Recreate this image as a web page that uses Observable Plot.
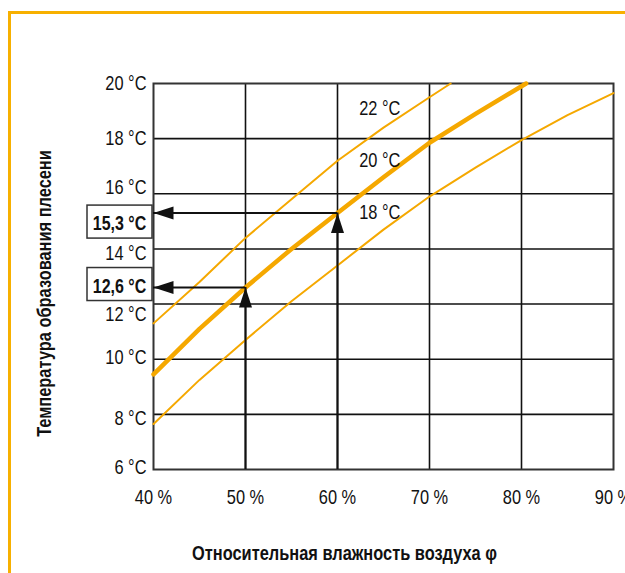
<!DOCTYPE html>
<html lang="ru">
<head>
<meta charset="utf-8">
<script src="https://cdn.jsdelivr.net/npm/d3@7"></script>
<script src="https://cdn.jsdelivr.net/npm/@observablehq/plot@0.6"></script>
<style>
  html, body { margin: 0; padding: 0; background: #fff; overflow: hidden; }
  #wrap { position: relative; width: 625px; height: 573px; }
  #wrap svg { display: block; }
  #edge {
    position: absolute; left: 8px; top: 11px; width: 700px; height: 700px;
    border-left: 3px solid #f7b000; border-top: 3px solid #f7b000;
    pointer-events: none;
  }
</style>
</head>
<body>
<div id="wrap"><div id="edge"></div></div>
<script>
// Relative humidity (%) vs. mould formation temperature (°C), per room air temperature
const xDomain = [40, 90];
const yDomain = [6, 20];
const xTicks = [40, 50, 60, 70, 80, 90];
const yTicks = [6, 8, 10, 12, 14, 16, 18, 20];

const seriesNames = ["22 °C", "20 °C", "18 °C"];

const rh22 = [40, 45, 50, 55, 60, 65, 70, 72.3];
const t22  = [11.3, 12.8, 14.4, 15.8, 17.2, 18.4, 19.5, 20];

const rh20 = [40, 45, 50, 55, 60, 65, 70, 75, 80.5];
const t20  = [9.45, 11.1, 12.6, 14.0, 15.3, 16.6, 17.85, 18.9, 20];

const rh18 = [40, 45, 50, 55, 60, 65, 70, 75, 80, 85, 90];
const t18  = [7.65, 9.25, 10.7, 12.1, 13.4, 14.7, 15.9, 16.95, 17.95, 18.85, 19.65];

// Worked readings on the 20 °C curve
const readRh = [50, 60];
const readT  = [12.6, 15.3];

const gold = "#f5a800";
const ink = "#111";

const toPoints = (rh, t) => rh.map((x, i) => ({x, y: t[i]}));
const readings = readRh.map((rh, i) => ({rh, t: readT[i]}));
const fmt = v => v.toFixed(1).replace(".", ",") + " °C";

// arrowhead: tip at the origin, pointing up
const head = {
  draw(ctx) {
    ctx.moveTo(0, 0);
    ctx.lineTo(-6.5, 20);
    ctx.lineTo(6.5, 20);
    ctx.closePath();
  }
};

// vertical nudges for axis labels sitting next to the callout boxes
const yLabelNudge = {16: -6, 14: 5, 12: 11, 8: 4, 10: -2, 6: -2};
// vertical offset of each callout box from its arrow
const boxShift = {50: -3, 60: 9};

const marks = [
  Plot.ruleX(xTicks.slice(1, -1), {stroke: "#111", strokeWidth: 1.6}),
  Plot.ruleY(yTicks.slice(1, -1), {stroke: "#111", strokeWidth: 1.6}),
  Plot.frame({stroke: "#333", strokeWidth: 2}),

  Plot.line(toPoints(rh22, t22), {x: "x", y: "y", stroke: gold, strokeWidth: 2}),
  Plot.line(toPoints(rh18, t18), {x: "x", y: "y", stroke: gold, strokeWidth: 2}),
  Plot.line(toPoints(rh20, t20), {x: "x", y: "y", stroke: gold, strokeWidth: 4.5}),

  // reading arrows: up from the humidity axis, then left to the temperature axis
  Plot.ruleX(readings, {x: "rh", y1: yDomain[0], y2: "t", stroke: ink, strokeWidth: 2}),
  Plot.ruleY(readings, {y: "t", x1: xDomain[0], x2: "rh", stroke: ink, strokeWidth: 2}),
  Plot.dot(readings, {x: "rh", y: "t", symbol: head, r: 3, fill: ink, stroke: "none"}),
  Plot.dot(readings, {x: xDomain[0], y: "t", symbol: head, r: 3, fill: ink, stroke: "none", rotate: -90}),

  // curve names
  Plot.text([seriesNames[0]], {x: 64.6, y: 19.08, text: d => d}),
  Plot.text([seriesNames[1]], {x: 64.6, y: 17.22, text: d => d}),
  Plot.text([seriesNames[2]], {x: 64.6, y: 15.33, text: d => d}),

  // x tick labels
  Plot.text(xTicks, {x: d => d, frameAnchor: "bottom", lineAnchor: "middle", dy: 28, text: d => `${d} %`}),

  // axis titles
  Plot.text(["Относительная влажность воздуха φ"], {
    frameAnchor: "bottom", textAnchor: "middle", lineAnchor: "middle",
    dx: -39, dy: 84, text: d => d, fontWeight: "bold"
  }),
  Plot.text(["Температура образования плесени"], {
    frameAnchor: "left", textAnchor: "middle", lineAnchor: "middle",
    dx: -109, dy: 17, rotate: -90, text: d => d, fontWeight: "bold"
  })
];

// y tick labels
for (const t of yTicks) {
  marks.push(Plot.text([t], {
    y: d => d, frameAnchor: "left", dx: -7, dy: yLabelNudge[t] || 0,
    textAnchor: "end", lineAnchor: "middle", text: d => `${d} °C`
  }));
}

// callout boxes with the read values
for (const r of readings) {
  const s = boxShift[r.rh];
  marks.push(Plot.rect([r], {
    x1: xDomain[0], x2: xDomain[0], y1: "t", y2: "t",
    insetLeft: -66, insetRight: 1, insetTop: s - 16.5, insetBottom: -(s + 16.5),
    fill: "#fff", stroke: "#333", strokeWidth: 1.5
  }));
  marks.push(Plot.text([r], {
    y: "t", frameAnchor: "left", textAnchor: "middle", lineAnchor: "middle",
    dx: -34, dy: s + 2, text: d => fmt(d.t), fontWeight: "bold", fontSize: 19.5
  }));
}

const chart = Plot.plot({
  width: 625,
  height: 573,
  marginLeft: 153,
  marginRight: 12,
  marginTop: 83,
  marginBottom: 104,
  style: {fontFamily: "'Liberation Sans', Arial, sans-serif", fontSize: "20px", color: "#111", background: "transparent", overflow: "visible"},
  x: {domain: xDomain, axis: null},
  y: {domain: yDomain, axis: null},
  marks
});

// narrow the lettering along its baseline (condensed face)
const NARROW = 0.82;
d3.select(chart).selectAll("text").each(function () {
  const el = d3.select(this);
  const tr = el.attr("transform");
  if (tr) {
    el.attr("transform", `${tr} scale(${NARROW},1)`);
  } else {
    const x = +el.attr("x") || 0, y = +el.attr("y") || 0;
    el.attr("x", null).attr("y", null)
      .attr("transform", `translate(${x},${y}) scale(${NARROW},1)`);
  }
});

document.getElementById("wrap").prepend(chart);
</script>
</body>
</html>
